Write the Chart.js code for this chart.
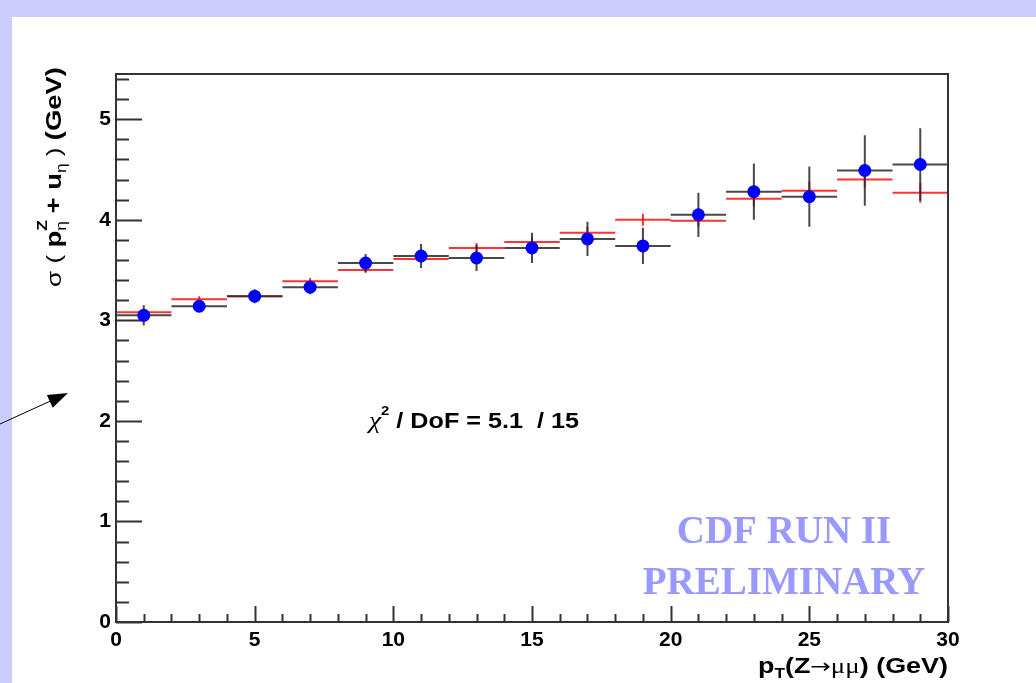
<!DOCTYPE html>
<html>
<head>
<meta charset="utf-8">
<script src="https://cdn.jsdelivr.net/npm/chart.js@4.4.0/dist/chart.umd.min.js"></script>
<style>
  html, body { margin: 0; padding: 0; background: #ccccff; }
  canvas { display: block; }
</style>
</head>
<body>
<canvas id="sigmaChart" width="1036" height="683"></canvas>
<script>
// p_T(Z) bins (GeV), each bin 2 GeV wide
const binCenters = [1, 3, 5, 7, 9, 11, 13, 15, 17, 19, 21, 23, 25, 27, 29];
const binHalfWidth = 1;

// measured resolution (blue points) with errors
const dataSigma = [3.05, 3.14, 3.24, 3.33, 3.57, 3.64, 3.62, 3.72, 3.81, 3.74, 4.05, 4.28, 4.23, 4.49, 4.55];
const dataErr = [0.10, 0.06, 0.07, 0.07, 0.09, 0.12, 0.13, 0.15, 0.17, 0.18, 0.22, 0.28, 0.30, 0.35, 0.36];

// simulation / prediction (red)
const modelSigma = [3.08, 3.21, 3.24, 3.39, 3.50, 3.61, 3.72, 3.78, 3.87, 4.00, 3.99, 4.21, 4.29, 4.40, 4.27];
const modelErr = [0.03, 0.03, 0.03, 0.03, 0.03, 0.04, 0.05, 0.05, 0.06, 0.06, 0.06, 0.08, 0.09, 0.08, 0.10];

// axis ticks
const xTicks = [0, 5, 10, 15, 20, 25, 30];
const yTicks = [0, 1, 2, 3, 4, 5];

const chiText = " / DoF = 5.1  / 15";

const SANS = '"Liberation Sans", Arial, Helvetica, sans-serif';

// build line pieces: one short segment per bin, gaps between them
function hSegments(values) {
  const pts = [];
  binCenters.forEach((c, i) => {
    pts.push({ x: c - binHalfWidth, y: values[i] });
    pts.push({ x: c + binHalfWidth, y: values[i] });
    pts.push({ x: c, y: null });
  });
  return pts;
}

function vSegments(values, errs) {
  const pts = [];
  binCenters.forEach((c, i) => {
    pts.push({ x: c, y: values[i] - errs[i] });
    pts.push({ x: c, y: values[i] + errs[i] });
    pts.push({ x: c, y: null });
  });
  return pts;
}

function segDataset(data, color, order) {
  return {
    type: "scatter",
    data: data,
    showLine: true,
    spanGaps: false,
    borderColor: color,
    borderWidth: 2,
    pointRadius: 0,
    order: order,
  };
}

// draw a list of text runs left to right
function drawRuns(ctx, runs, x, y) {
  let cx = x;
  runs.forEach((r) => {
    ctx.font = r.font;
    ctx.fillText(r.text, cx, y + (r.dy || 0));
    if (!r.stay) cx += ctx.measureText(r.text).width;
  });
  return cx;
}

function runsWidth(ctx, runs) {
  let w = 0;
  runs.forEach((r) => {
    ctx.font = r.font;
    if (!r.stay) w += ctx.measureText(r.text).width;
  });
  return w;
}

// ROOT text is a bit wider than Liberation, so stretch runs to a given width
function drawRunsFit(ctx, runs, x, y, width) {
  const w = runsWidth(ctx, runs);
  ctx.save();
  ctx.translate(x, y);
  ctx.scale(width / w, 1);
  drawRuns(ctx, runs, 0, 0);
  ctx.restore();
}

const rootStyle = {
  id: "rootStyle",
  beforeDraw(chart) {
    const ctx = chart.ctx;
    ctx.save();
    ctx.fillStyle = "#ccccff";
    ctx.fillRect(0, 0, chart.width, chart.height);
    ctx.fillStyle = "#ffffff";
    ctx.fillRect(12, 17, chart.width - 12, chart.height - 17);
    ctx.restore();
  },
  beforeDatasetsDraw(chart) {
    const ctx = chart.ctx;
    const xs = chart.scales.x;
    const ys = chart.scales.y;
    const area = chart.chartArea;
    ctx.save();
    ctx.strokeStyle = "#333333";
    ctx.lineWidth = 2;
    // y ticks inside, major every 1, minor every 0.2
    for (let k = 0; k <= 27; k++) {
      const v = k * 0.2;
      const py = Math.round(ys.getPixelForValue(v)) + 0.5;
      const len = k % 5 === 0 ? 26 : 13;
      ctx.beginPath();
      ctx.moveTo(area.left, py);
      ctx.lineTo(area.left + len, py);
      ctx.stroke();
    }
    // x ticks inside, major every 5, minor every 1
    for (let v = 0; v <= 30; v++) {
      const px = Math.round(xs.getPixelForValue(v)) + 0.5;
      const len = v % 5 === 0 ? 16 : 8;
      ctx.beginPath();
      ctx.moveTo(px, area.bottom);
      ctx.lineTo(px, area.bottom - len);
      ctx.stroke();
    }
    ctx.restore();
  },
  afterDraw(chart) {
    const ctx = chart.ctx;
    const area = chart.chartArea;
    ctx.save();
    // frame
    ctx.strokeStyle = "#333333";
    ctx.lineWidth = 2;
    ctx.strokeRect(area.left, area.top, area.right - area.left, area.bottom - area.top);

    ctx.fillStyle = "#000000";
    ctx.textBaseline = "alphabetic";
    ctx.textAlign = "left";

    // chi2 text
    drawRunsFit(ctx, [
      { text: "\u03C7", font: "italic 24px \"Liberation Serif\", serif" },
      { text: "2", font: "bold 13px " + SANS, dy: -13 },
      { text: chiText, font: "bold 22px " + SANS },
    ], 369, 428, 210);

    // x axis title
    const xRuns = [
      { text: "p", font: "bold 22px " + SANS },
      { text: "T", font: "bold 14px " + SANS, dy: 5 },
      { text: "(Z", font: "bold 22px " + SANS },
      { text: "\u2192", font: "20px \"DejaVu Sans\", sans-serif" },
      { text: "\u03BC\u03BC", font: "22px \"Liberation Serif\", serif" },
      { text: ") (GeV)", font: "bold 22px " + SANS },
    ];
    drawRunsFit(ctx, xRuns, area.right - 190, 673, 190);

    // y axis title, rotated, ending near the top of the frame
    const yRuns = [
      { text: "\u03C3 ( ", font: "21px " + SANS },
      { text: "p", font: "bold 22px " + SANS },
      { text: "Z", font: "bold 14px " + SANS, dy: -14, stay: true },
      { text: "\u03B7", font: "14px " + SANS, dy: 5 },
      { text: " + u", font: "bold 22px " + SANS },
      { text: "\u03B7", font: "14px " + SANS, dy: 5 },
      { text: " ) ", font: "21px " + SANS },
      { text: "(GeV)", font: "bold 22px " + SANS },
    ];
    ctx.save();
    ctx.translate(61, 67);
    ctx.rotate(-Math.PI / 2);
    drawRunsFit(ctx, yRuns, -220, 0, 220);
    ctx.restore();

    // CDF watermark
    ctx.fillStyle = "#9999ff";
    ctx.textAlign = "center";
    ctx.font = "bold 39px \"Liberation Serif\", \"Times New Roman\", serif";
    ctx.fillText("CDF RUN II", 784, 543);
    ctx.fillText("PRELIMINARY", 784, 594);

    // annotation arrow at the left edge
    ctx.strokeStyle = "#000000";
    ctx.fillStyle = "#000000";
    ctx.lineWidth = 1;
    const x0 = 0, y0 = 424, x1 = 68, y1 = 393;
    const ang = Math.atan2(y1 - y0, x1 - x0);
    ctx.beginPath();
    ctx.moveTo(x0, y0);
    ctx.lineTo(x1 - 18 * Math.cos(ang), y1 - 18 * Math.sin(ang));
    ctx.stroke();
    ctx.beginPath();
    ctx.moveTo(x1, y1);
    ctx.lineTo(x1 - 20 * Math.cos(ang) + 7 * Math.sin(ang), y1 - 20 * Math.sin(ang) - 7 * Math.cos(ang));
    ctx.lineTo(x1 - 20 * Math.cos(ang) - 7 * Math.sin(ang), y1 - 20 * Math.sin(ang) + 7 * Math.cos(ang));
    ctx.closePath();
    ctx.fill();
    ctx.restore();
  },
};

const ctx = document.getElementById("sigmaChart").getContext("2d");
const sigmaChart = new Chart(ctx, {
  type: "scatter",
  data: {
    datasets: [
      {
        label: "Data",
        data: binCenters.map((c, i) => ({ x: c, y: dataSigma[i] })),
        pointRadius: 6.5,
        pointBackgroundColor: "#0000ff",
        pointBorderWidth: 0,
        order: 0,
      },
      segDataset(hSegments(dataSigma), "rgba(40,40,40,0.85)", 1),
      segDataset(vSegments(dataSigma, dataErr), "rgba(40,40,40,0.85)", 1),
      segDataset(hSegments(modelSigma), "rgba(255,0,0,0.8)", 2),
      segDataset(vSegments(modelSigma, modelErr), "rgba(255,0,0,0.8)", 2),
    ],
  },
  options: {
    responsive: false,
    animation: false,
    devicePixelRatio: 1,
    layout: { padding: { left: 76, right: 88, top: 74, bottom: 21 } },
    plugins: {
      legend: { display: false },
      tooltip: { enabled: false },
    },
    scales: {
      x: {
        type: "linear",
        min: 0,
        max: 30,
        grid: { display: false, drawTicks: false },
        border: { display: false },
        afterBuildTicks: (scale) => {
          scale.ticks = xTicks.map((v) => ({ value: v }));
        },
        afterFit: (scale) => {
          scale.height = 40;
        },
        ticks: {
          color: "#000000",
          padding: 6,
          maxRotation: 0,
          font: { family: SANS, weight: "bold", size: 21 },
        },
      },
      y: {
        type: "linear",
        min: 0,
        max: 5.45,
        grid: { display: false, drawTicks: false },
        border: { display: false },
        afterBuildTicks: (scale) => {
          scale.ticks = yTicks.map((v) => ({ value: v }));
        },
        afterFit: (scale) => {
          scale.width = 40;
        },
        ticks: {
          color: "#000000",
          padding: 5,
          font: { family: SANS, weight: "bold", size: 21 },
        },
      },
    },
  },
  plugins: [rootStyle],
});
</script>
</body>
</html>
